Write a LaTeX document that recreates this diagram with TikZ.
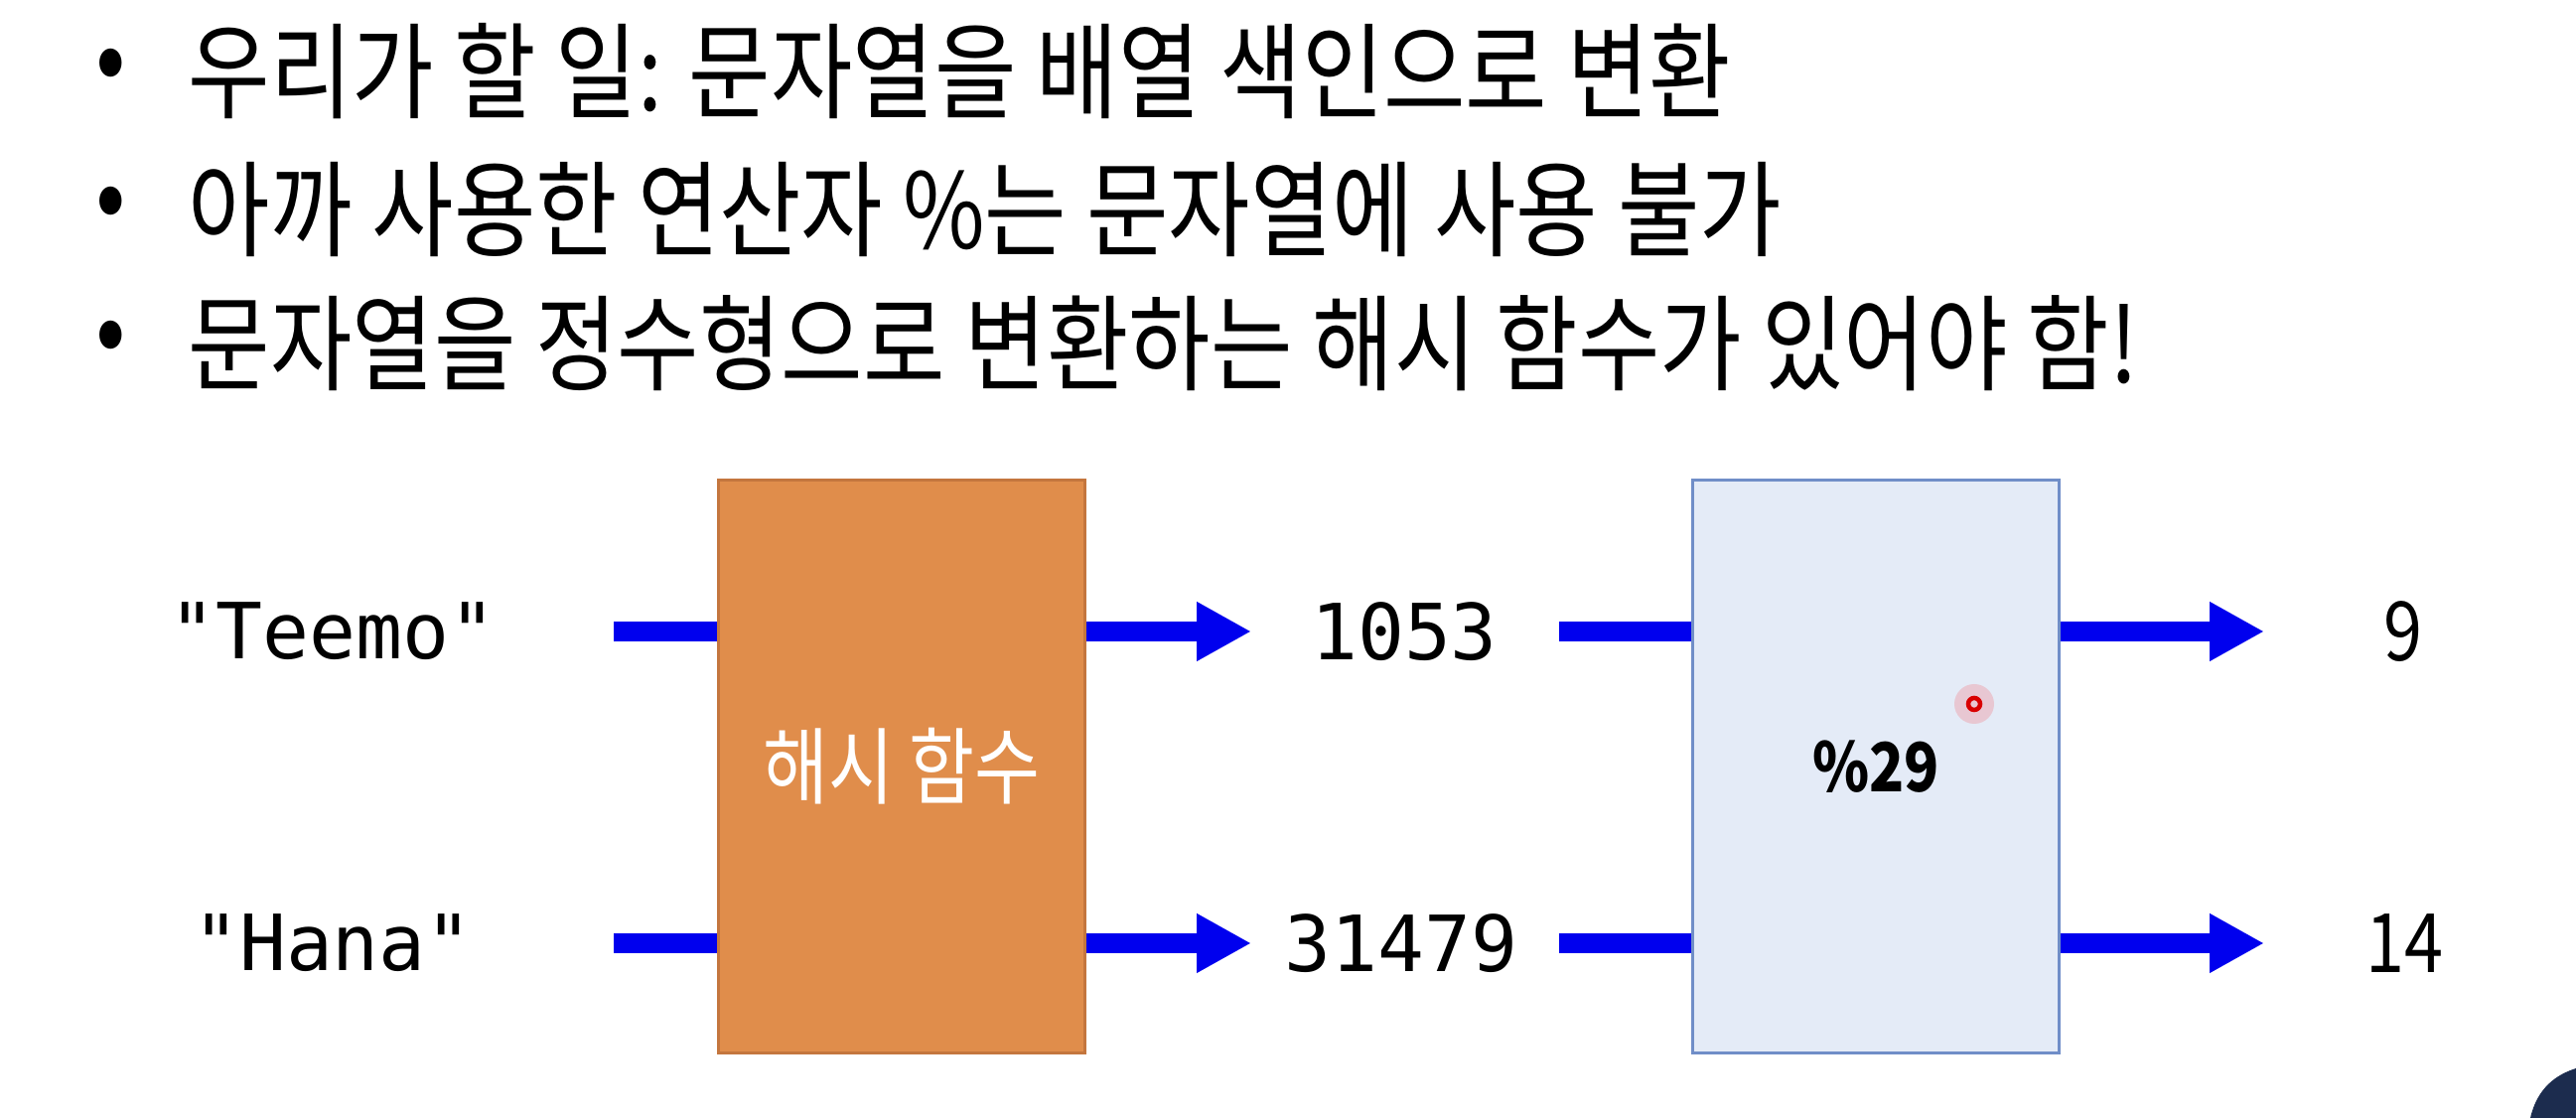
\documentclass[tikz,border=0pt]{standalone}
\usepackage{fontspec}
\setmainfont{Noto Sans CJK KR}[FakeStretch=0.85]
\newfontfamily\codefont{DejaVu Sans Mono}
\usetikzlibrary{arrows.meta}

\definecolor{hashorange}{RGB}{224,141,75}
\definecolor{hashedge}{RGB}{196,118,62}
\definecolor{modfill}{RGB}{228,235,247}
\definecolor{modedge}{RGB}{112,142,200}
\definecolor{flowblue}{RGB}{0,0,238}
\definecolor{speaker}{RGB}{28,44,78}

\begin{document}
\begin{tikzpicture}
    [x=0.1mm, y=-0.1mm,
    every node/.style={inner sep=0pt},
    bullet line/.style={anchor=west, font=\fontsize{30}{34}\selectfont},
    key/.style={font=\codefont\fontsize{22.2}{26}\selectfont},
    index/.style={font=\fontsize{23.5}{27}\selectfont},
    func box/.style={draw, line width=0.3mm, minimum width=36.9mm, minimum height=57.7mm},
    feed/.style={flowblue, line width=2mm},
    flow/.style={feed, -{Triangle[length=5.5mm, width=5.6mm]}}
    ]
    \useasboundingbox (0,0) rectangle (2594,1126);
    \fill[white] (0,0) rectangle (2594,1126);

    % bullet list
    \foreach \y/\txt [count=\i] in {72/우리가 할 일: 문자열을 배열 색인으로 변환,
            211/아까 사용한 연산자 \%는 문자열에 사용 불가,
            346/문자열을 정수형으로 변환하는 해시 함수가 있어야 함!} {
        \node[bullet line, anchor=center] (dot\i) at (112,\y) {•};
        \node[bullet line] (item\i) at (189,\y) {\txt};
    }

    % the two functions
    \node[func box, fill=hashorange, draw=hashedge, text=white,
        font=\fontsize{24}{28}\selectfont] (hash) at (908,772) {해시 함수};
    \node[func box, fill=modfill, draw=modedge,
        font=\bfseries\fontsize{19.4}{23}\selectfont] (mod) at (1889,772) {\%29};

    % keys, hash values, indices
    \node[key] (teemo) at (335,636) {"Teemo"};
    \node[key] (hana) at (335,950) {"Hana"};
    \node[key] (tnum) at (1414,636) {1053};
    \node[key] (hnum) at (1411,950) {31479};
    \node[index] (tidx) at (2420,636) {9};
    \node[index] (hidx) at (2421,950) {14};

    % free ends of the arrows
    \coordinate (teemo in) at (618,636);
    \coordinate (hana in) at (618,950);
    \coordinate (tnum out) at (1260,636);
    \coordinate (hnum out) at (1260,950);
    \coordinate (tnum in) at (1570,636);
    \coordinate (hnum in) at (1570,950);
    \coordinate (tidx out) at (2280,636);
    \coordinate (hidx out) at (2280,950);

    \draw[feed] (teemo in) -- (hash.west |- teemo);
    \draw[feed] (hana in) -- (hash.west |- hana);
    \draw[flow] (hash.east |- teemo) -- (tnum out);
    \draw[flow] (hash.east |- hana) -- (hnum out);
    \draw[feed] (tnum in) -- (mod.west |- tnum);
    \draw[feed] (hnum in) -- (mod.west |- hnum);
    \draw[flow] (mod.east |- tidx) -- (tidx out);
    \draw[flow] (mod.east |- hidx) -- (hidx out);

    % pointer and speaker
    \fill[red, opacity=0.15] (1988,709) circle (2mm);
    \draw[red!85!black, line width=0.45mm] (1988,709) circle (0.6mm);
    \fill[speaker] (2548,1126) .. controls (2555,1095) and (2575,1082) .. (2594,1076)
        -- (2594,1126) -- cycle;
\end{tikzpicture}
\end{document}
